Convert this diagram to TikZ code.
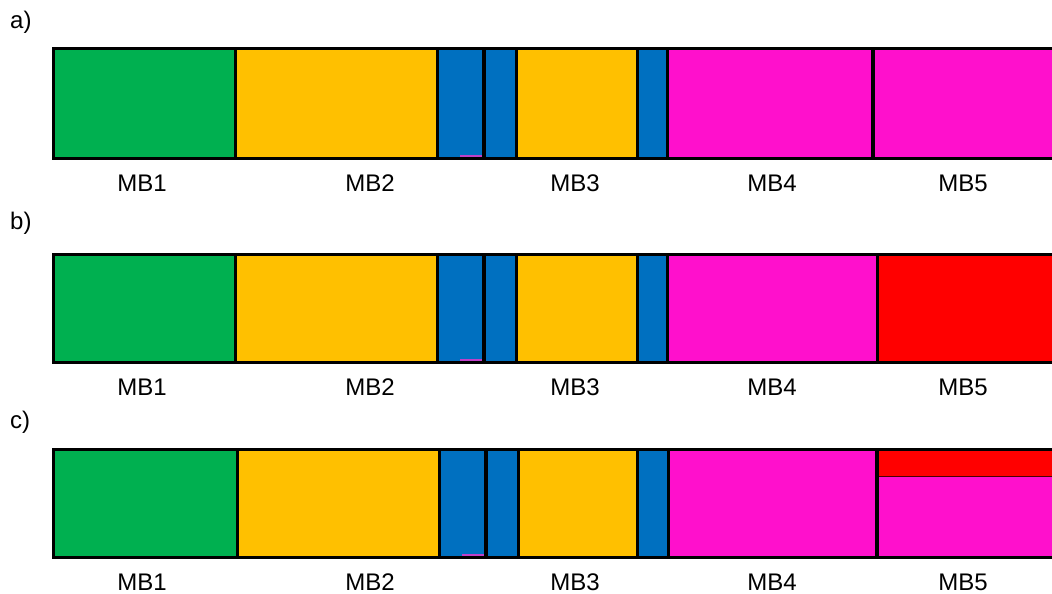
\documentclass[tikz,border=0pt]{standalone}
\usepackage{fontspec}
\setmainfont{Liberation Sans}
\definecolor{cgreen}{HTML}{00B050}
\definecolor{cyel}{HTML}{FFC000}
\definecolor{cblue}{HTML}{0070C0}
\definecolor{cmag}{HTML}{FF10CC}
\definecolor{cred}{HTML}{FF0000}
\definecolor{cpurp}{HTML}{C040C8}
\tikzset{
  seg/.style={draw=black, line width=3pt},
  thickseg/.style={draw=black, line width=3.6pt},
  lbl/.style={anchor=base, inner sep=0pt, font=\fontsize{24}{28}\selectfont},
  plbl/.style={anchor=base west, inner sep=0pt, font=\fontsize{24}{28}\selectfont},
  tick/.style={cpurp, line width=2pt}
}
\begin{document}
\begin{tikzpicture}[x=1pt,y=-1pt]
\useasboundingbox (0,0) rectangle (1052,594);
\clip (0,0) rectangle (1052,594);
% ---------- panel a ----------
\node[plbl] (la) at (10,29) {a)};
\fill[cgreen] (53,49) rectangle (235,158);
\fill[cyel] (235,49) rectangle (437,158);
\fill[cblue] (437,49) rectangle (484,158);
\fill[cblue] (484,49) rectangle (516,158);
\fill[cyel] (516,49) rectangle (637,158);
\fill[cblue] (637,49) rectangle (667,158);
\fill[cmag] (667,49) rectangle (873,158);
\fill[cmag] (873,49) rectangle (1060,158);
\draw[tick] (460,156) -- (483,156);
\draw[seg] (1060,49) -- (53,49) -- (53,158) -- (1060,158);
\foreach \x in {235,437,516,637,667} \draw[seg] (\x,49) -- (\x,158);
\foreach \x in {484,873} \draw[thickseg] (\x,49) -- (\x,158);
\node[lbl] (a1) at (142,191) {MB1};
\node[lbl] (a2) at (370,191) {MB2};
\node[lbl] (a3) at (575,191) {MB3};
\node[lbl] (a4) at (772,191) {MB4};
\node[lbl] (a5) at (963,191) {MB5};
% ---------- panel b ----------
\node[plbl] (lb) at (10,229) {b)};
\fill[cgreen] (53,254) rectangle (235,362);
\fill[cyel] (235,254) rectangle (437,362);
\fill[cblue] (437,254) rectangle (484,362);
\fill[cblue] (484,254) rectangle (516,362);
\fill[cyel] (516,254) rectangle (637,362);
\fill[cblue] (637,254) rectangle (667,362);
\fill[cmag] (667,254) rectangle (877,362);
\fill[cred] (877,254) rectangle (1060,362);
\draw[tick] (460,360) -- (483,360);
\draw[seg] (1060,254) -- (53,254) -- (53,362) -- (1060,362);
\foreach \x in {235,437,516,637,667,877} \draw[seg] (\x,254) -- (\x,362);
\foreach \x in {484} \draw[thickseg] (\x,254) -- (\x,362);
\node[lbl] (b1) at (142,395) {MB1};
\node[lbl] (b2) at (370,395) {MB2};
\node[lbl] (b3) at (575,395) {MB3};
\node[lbl] (b4) at (772,395) {MB4};
\node[lbl] (b5) at (963,395) {MB5};
% ---------- panel c ----------
\node[plbl] (lc) at (10,428) {c)};
\fill[cgreen] (53,449) rectangle (237,557);
\fill[cyel] (237,449) rectangle (439,557);
\fill[cblue] (439,449) rectangle (486,557);
\fill[cblue] (486,449) rectangle (518,557);
\fill[cyel] (518,449) rectangle (637,557);
\fill[cblue] (637,449) rectangle (668,557);
\fill[cmag] (668,449) rectangle (877,557);
\fill[cmag] (877,449) rectangle (1060,557);
\fill[cred] (877,449) rectangle (1060,476);
\draw[black!70!cred, line width=1pt] (877,476) -- (1060,476);
\draw[tick] (462,555) -- (485,555);
\draw[seg] (1060,449) -- (53,449) -- (53,557) -- (1060,557);
\foreach \x in {237,439,518,637,668} \draw[seg] (\x,449) -- (\x,557);
\foreach \x in {486,877} \draw[thickseg] (\x,449) -- (\x,557);
\node[lbl] (c1) at (142,590) {MB1};
\node[lbl] (c2) at (370,590) {MB2};
\node[lbl] (c3) at (575,590) {MB3};
\node[lbl] (c4) at (772,590) {MB4};
\node[lbl] (c5) at (963,590) {MB5};
\end{tikzpicture}
\end{document}
